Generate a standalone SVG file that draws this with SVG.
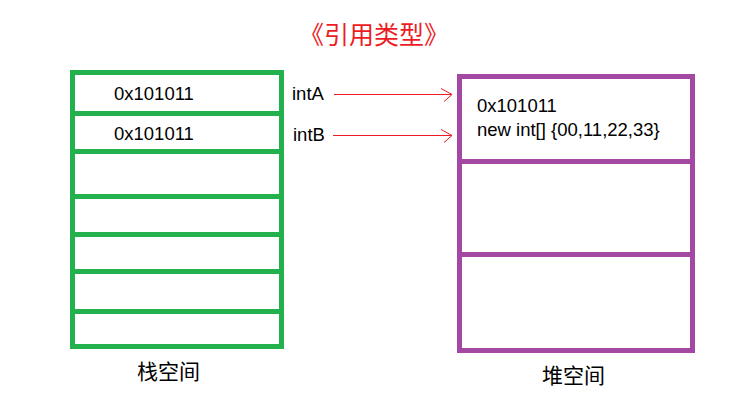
<svg xmlns="http://www.w3.org/2000/svg" width="745" height="411" viewBox="0 0 745 411">
<defs>
<style>
.stack{fill:none;stroke:#22b14c;stroke-width:5}
.heap{fill:none;stroke:#a349a4;stroke-width:5}
.t{font-family:"Liberation Sans","Noto Sans CJK SC",sans-serif;font-size:18.5px;fill:#000}
.cjk{font-family:"Noto Sans CJK SC",sans-serif;font-size:21px;fill:#000}
.title{font-family:"Noto Sans CJK SC",sans-serif;font-size:25px;fill:#ed1c24}
.arrow{stroke:#ed1c24;stroke-width:1;fill:none}
</style>
<marker id="chev" markerUnits="userSpaceOnUse" markerWidth="16" markerHeight="18" refX="13" refY="8" orient="auto" overflow="visible">
<path d="M2,2 L13,8 L5,15" stroke="#ed1c24" stroke-width="1" fill="none"/>
</marker>
</defs>
<rect width="745" height="411" fill="#fff"/>
<text id="title" class="title" x="374" y="44" text-anchor="middle">《引用类型》</text>
<g id="stack">
<rect class="stack" x="72.5" y="72.5" width="209" height="274"/>
<line class="stack" x1="72.5" y1="113.5" x2="281.5" y2="113.5"/>
<line class="stack" x1="72.5" y1="151.5" x2="281.5" y2="151.5"/>
<line class="stack" x1="72.5" y1="196.5" x2="281.5" y2="196.5"/>
<line class="stack" x1="72.5" y1="234.5" x2="281.5" y2="234.5"/>
<line class="stack" x1="72.5" y1="271.5" x2="281.5" y2="271.5"/>
<line class="stack" x1="72.5" y1="311.5" x2="281.5" y2="311.5"/>
<text class="t" x="114" y="99.5">0x101011</text>
<text class="t" x="114" y="140">0x101011</text>
<text class="cjk" x="137" y="379">栈空间</text>
</g>
<g id="heap">
<rect class="heap" x="459.5" y="76.5" width="233" height="274"/>
<line class="heap" x1="459.5" y1="161.5" x2="692.5" y2="161.5"/>
<line class="heap" x1="459.5" y1="254.5" x2="692.5" y2="254.5"/>
<text class="t" x="477" y="112">0x101011</text>
<text class="t" x="477" y="136">new int[] {00,11,22,33}</text>
<text class="cjk" x="542" y="383">堆空间</text>
</g>
<g id="labels">
<text class="t" x="292" y="99.5">intA</text>
<text class="t" x="293" y="141">intB</text>
</g>
<g id="connectors">
<line class="arrow" x1="334" y1="94.5" x2="452" y2="94.5" marker-end="url(#chev)"/>
<line class="arrow" x1="333" y1="135.5" x2="452" y2="135.5" marker-end="url(#chev)"/>
</g>
</svg>
